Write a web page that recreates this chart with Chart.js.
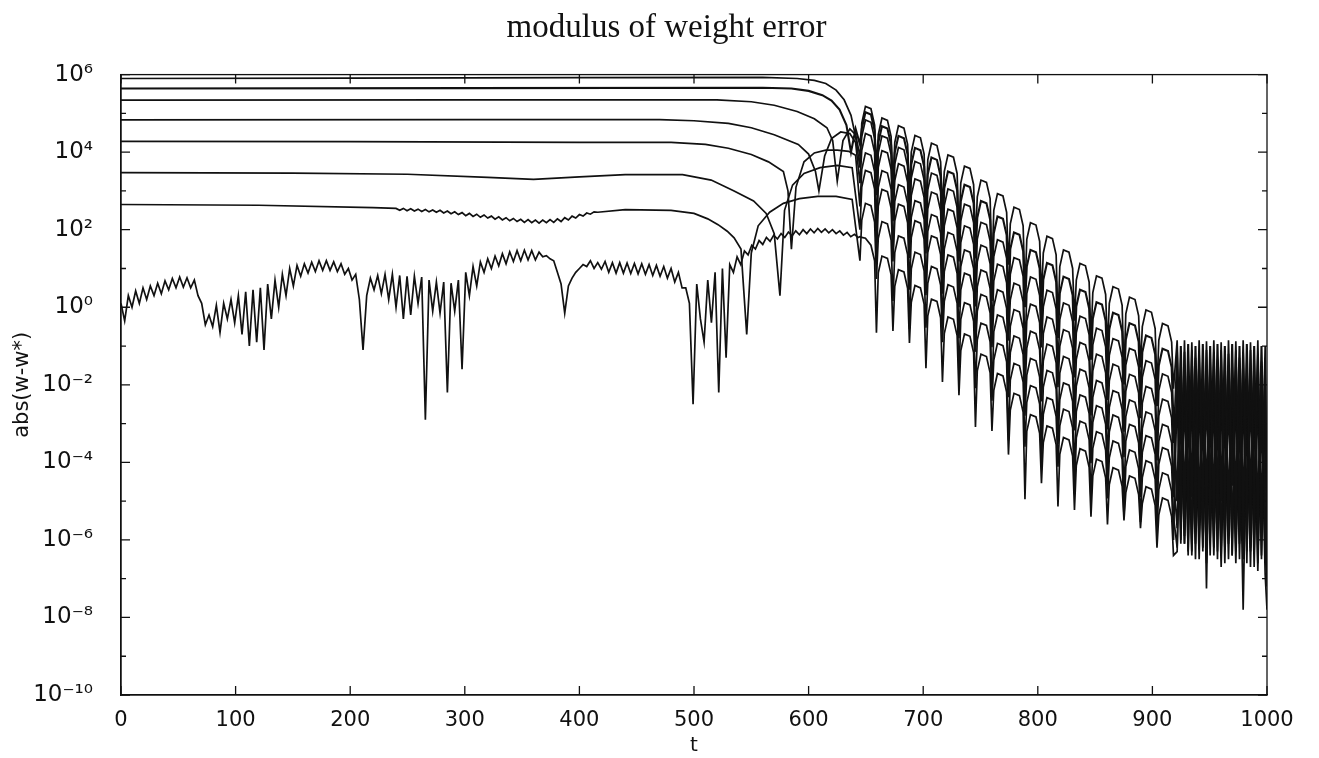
<!DOCTYPE html>
<html>
<head>
<meta charset="utf-8">
<script src="https://cdn.jsdelivr.net/npm/chart.js@4.4.1/dist/chart.umd.min.js"></script>
<style>
  html, body { margin: 0; padding: 0; background: #fff; }
  #wrap { width: 1319px; height: 758px; }
</style>
</head>
<body>
<div id="wrap"><canvas id="c" width="1319" height="758"></canvas></div>
<script>
// All values as log10 of abs(w - w*).

// Tick labels / tick positions
const xTickValues = [0, 100, 200, 300, 400, 500, 600, 700, 800, 900, 1000];
const yTickExponents = [-10, -9, -8, -7, -6, -5, -4, -3, -2, -1, 0, 1, 2, 3, 4, 5, 6];

// Early (pre-collapse) parts of the seven upper curves: [t, log10 value]
const s1Early = [[0,5.9],[200,5.91],[400,5.92],[560,5.93],[590,5.9],[605,5.85],[615,5.77],[624,5.6],[631,5.35],[637,4.95],[641,4.4]];
const s2Early = [[0,5.64],[300,5.65],[560,5.66],[585,5.64],[600,5.58],[612,5.47],[620,5.33],[627,5.1],[633,4.7],[637,4.0],[641,4.6]];
const s3Early = [[0,5.34],[300,5.35],[520,5.35],[550,5.3],[570,5.21],[590,5.05],[605,4.86],[616,4.63],[621,4.3],[625,3.25],[630,4.3],[636,4.6],[641,4.45]];
const s4Early = [[0,4.83],[300,4.84],[470,4.84],[500,4.81],[530,4.74],[550,4.63],[570,4.45],[591,4.2],[600,3.95],[606,3.5],[609,3.0],[614,3.9],[620,4.35],[628,4.52],[636,4.48],[641,4.25]];
const s5Early = [[0,4.28],[200,4.27],[400,4.25],[480,4.25],[510,4.2],[530,4.1],[550,3.94],[565,3.75],[578,3.5],[582,3.0],[585,1.5],[589,3.1],[596,3.75],[605,3.98],[615,4.05],[625,4.05],[635,4.02],[641,3.92]];
const s6Early = [[0,3.47],[150,3.46],[250,3.43],[320,3.35],[360,3.3],[400,3.36],[440,3.42],[490,3.42],[515,3.28],[535,3.0],[552,2.74],[563,2.42],[570,1.9],[575,0.3],[579,2.5],[586,3.15],[596,3.45],[610,3.6],[625,3.66],[638,3.6]];
const s7EarlyA = [[0,2.65],[120,2.63],[220,2.57]];
// wavy stretch of curve 7, every 3.2 time steps from t = 240 to t = 416
const s7WavyStart = 240, s7WavyStep = 3.2;
const s7Wavy = [
  2.55,2.5,2.55,2.49,2.54,2.48,2.53,2.47,2.52,2.46,
  2.51,2.45,2.5,2.43,2.48,2.41,2.46,2.39,2.44,2.36,
  2.42,2.34,2.4,2.32,2.38,2.3,2.35,2.27,2.33,2.25,
  2.31,2.23,2.29,2.21,2.27,2.19,2.26,2.18,2.25,2.17,
  2.25,2.18,2.26,2.19,2.28,2.21,2.31,2.25,2.35,2.3,
  2.39,2.35,2.43,2.4,2.46,2.45
];
const s7EarlyB = [[440,2.52],[480,2.5],[500,2.42],[512,2.28],[521,2.13],[529,1.96],[535,1.79],[541,1.5],[546,-0.7],[550,1.4],[556,2.1],[566,2.45],[578,2.68],[592,2.8],[608,2.86],[624,2.86],[638,2.78]];

// Lowest curve, sampled every 3.2 time steps from t = 0 to t = 643.2
const s8FineStep = 3.2;
const s8Early = [
  0.1,-0.35,0.3,0.0,0.42,0.1,0.5,0.2,0.55,0.3,
  0.62,0.35,0.68,0.45,0.74,0.5,0.78,0.52,0.76,0.5,
  0.7,0.3,0.1,-0.45,-0.2,-0.5,0.05,-0.65,0.1,-0.3,
  0.2,-0.4,0.3,-0.7,0.4,-1.0,0.45,-0.9,0.5,-1.1,
  0.6,-0.3,0.7,0.0,0.85,0.3,1.0,0.55,1.08,0.8,
  1.12,0.88,1.16,0.92,1.2,0.95,1.2,0.95,1.17,0.92,
  1.12,0.85,1.0,0.7,0.85,0.2,-1.1,0.3,0.75,0.45,
  0.82,0.35,0.85,0.2,0.85,0.0,0.82,-0.3,0.8,-0.2,
  0.8,0.1,0.78,-2.9,0.7,-0.1,0.65,-0.15,0.65,-2.2,
  0.62,-0.1,0.7,-1.6,0.9,0.3,1.05,0.55,1.17,0.9,
  1.25,1.0,1.32,1.07,1.38,1.12,1.43,1.18,1.46,1.2,
  1.47,1.22,1.46,1.22,1.42,1.3,1.33,1.25,1.2,0.9,
  0.6,-0.15,0.55,0.75,0.9,1.0,1.1,1.05,1.2,1.0,
  1.15,0.98,1.18,0.9,1.15,0.88,1.15,0.88,1.14,0.87,
  1.13,0.86,1.12,0.85,1.1,0.82,1.08,0.8,1.05,0.75,
  1.0,0.65,0.9,0.5,0.5,0.1,-2.5,0.6,-0.3,-0.9,
  0.7,-0.4,0.9,-2.2,1.0,-1.3,1.1,0.9,1.3,1.1,
  1.45,
  1.35,1.6,1.5,1.72,1.62,1.8,1.7,1.86,1.76,1.9,
  1.8,1.94,1.84,1.97,1.87,2.0,1.9,2.02,1.92,2.03,
  1.93,2.02,1.92,2.0,1.9,1.97,1.86,1.93,1.82,1.88,1.8
];

// Decaying oscillation: one cusp + arch every 14.4 time steps from t = 644.8;
// each period is read at offsets 0 (cusp), 1.6, 4.8, 9.6, 12.8; last value is the cusp at t = 918.4
const decayStart = 644.8, decayPeriod = 14.4;
const decayOffsets = [0, 1.6, 4.8, 9.6, 12.8];
const s1Decay = [
  3.6,4.75,5.18,5.12,4.7, 3.6,4.45,4.88,4.82,4.4, 3.1,4.25,4.68,4.62,4.2, 2.95,4.0,4.43,4.37,3.95,
  2.35,3.8,4.23,4.17,3.75, 2.55,3.5,3.93,3.87,3.45, 1.96,3.21,3.64,3.58,3.16, 1.7,2.85,3.28,3.22,2.8,
  0.95,2.5,2.93,2.87,2.45, 1.1,2.15,2.58,2.52,2.1, 0.4,1.75,2.18,2.12,1.7, 0.25,1.4,1.83,1.77,1.35,
  -0.4,1.05,1.48,1.42,1.0, -0.35,0.7,1.13,1.07,0.65, -0.87,0.38,0.81,0.75,0.33, -1.05,0.1,0.53,0.47,0.05,
  -1.72,-0.17,0.26,0.2,-0.22, -1.55,-0.5,-0.07,-0.13,-0.55, -2.1,-0.85,-0.42,-0.48,-0.9, -2.1];
const s2Decay = [
  4.2,4.6,5.03,4.97,4.55, 2.89,4.24,4.67,4.61,4.19, 3.04,3.99,4.42,4.36,3.94, 2.13,3.68,4.11,4.05,3.63,
  2.38,3.43,3.86,3.8,3.38, 1.82,3.07,3.5,3.44,3.02, 1.28,2.73,3.16,3.1,2.68, 1.26,2.31,2.74,2.68,2.26,
  0.76,1.91,2.34,2.28,1.86, -0.15,1.5,1.93,1.87,1.45, 0.0,1.05,1.48,1.42,1.0, -0.64,0.71,1.14,1.08,0.66,
  -0.79,0.36,0.79,0.73,0.31, -1.43,0.02,0.45,0.39,-0.03, -1.35,-0.3,0.13,0.07,-0.35, -1.82,-0.57,-0.14,-0.2,-0.62,
  -1.99,-0.84,-0.41,-0.47,-0.89, -2.51,-1.16,-0.73,-0.79,-1.21, -2.55,-1.5,-1.07,-1.13,-1.55, -2.95];
const s3Decay = [
  3.9,4.4,4.83,4.77,4.35, 2.94,3.99,4.42,4.36,3.94, 2.24,3.69,4.12,4.06,3.64, 2.38,3.33,3.76,3.7,3.28,
  1.78,3.03,3.46,3.4,2.98, 0.97,2.62,3.05,2.99,2.57, 1.18,2.23,2.66,2.6,2.18, 0.41,1.76,2.19,2.13,1.71,
  0.16,1.31,1.74,1.68,1.26, -0.4,0.85,1.28,1.22,0.8, -1.2,0.35,0.78,0.72,0.3, -1.04,0.01,0.44,0.38,-0.04,
  -1.57,-0.32,0.11,0.05,-0.37, -1.81,-0.66,-0.23,-0.29,-0.71, -2.52,-0.97,-0.54,-0.6,-1.02, -2.39,-1.24,-0.81,-0.87,-1.29,
  -2.84,-1.49,-1.06,-1.12,-1.54, -2.86,-1.81,-1.38,-1.44,-1.86, -3.6,-2.15,-1.72,-1.78,-2.2, -3.5];
const s4Decay = [
  3.2,4.05,4.48,4.42,4.0, 1.86,3.61,4.04,3.98,3.56, 2.22,3.27,3.7,3.64,3.22, 1.63,2.88,3.31,3.25,2.83,
  1.39,2.54,2.97,2.91,2.49, 1.05,2.1,2.53,2.47,2.05, 0.12,1.67,2.1,2.04,1.62, 0.02,1.17,1.6,1.54,1.12,
  -0.67,0.68,1.11,1.05,0.63, -0.86,0.19,0.62,0.56,0.14, -1.6,-0.35,0.08,0.02,-0.4, -2.33,-0.68,-0.25,-0.31,-0.73,
  -2.06,-1.01,-0.58,-0.64,-1.06, -2.69,-1.34,-0.91,-0.97,-1.39, -2.79,-1.64,-1.21,-1.27,-1.69, -3.15,-1.9,-1.47,-1.53,-1.95,
  -3.21,-2.16,-1.73,-1.79,-2.21, -4.02,-2.47,-2.04,-2.1,-2.52, -3.95,-2.8,-2.37,-2.43,-2.85, -4.35];
const s5Decay = [
  2.6,3.55,3.98,3.92,3.5, 1.94,3.09,3.52,3.46,3.04, 1.38,2.73,3.16,3.1,2.68, 1.27,2.32,2.75,2.69,2.27,
  0.31,1.96,2.39,2.33,1.91, 0.35,1.5,1.93,1.87,1.45, 0.0,1.05,1.48,1.42,1.0, -1.02,0.53,0.96,0.9,0.48,
  -1.03,0.02,0.45,0.39,-0.03, -1.94,-0.49,-0.06,-0.12,-0.54, -2.2,-1.05,-0.62,-0.68,-1.1, -2.43,-1.38,-0.95,-1.01,-1.43,
  -3.25,-1.7,-1.27,-1.33,-1.75, -3.18,-2.03,-1.6,-1.66,-2.08, -3.57,-2.32,-1.89,-1.95,-2.37, -4.03,-2.58,-2.15,-2.21,-2.63,
  -3.87,-2.82,-2.39,-2.45,-2.87, -4.38,-3.13,-2.7,-2.76,-3.18, -4.8,-3.45,-3.02,-3.08,-3.5, -4.9];
const s6Decay = [
  2.0,3.1,3.53,3.47,3.05, 1.16,2.61,3.04,2.98,2.56, 1.18,2.23,2.66,2.6,2.18, 0.45,1.8,2.23,2.17,1.75,
  0.36,1.41,1.84,1.78,1.36, -0.53,0.92,1.35,1.29,0.87, -0.8,0.45,0.88,0.82,0.4, -1.15,-0.1,0.33,0.27,-0.15,
  -2.28,-0.63,-0.2,-0.26,-0.68, -2.32,-1.17,-0.74,-0.8,-1.22, -2.8,-1.75,-1.32,-1.38,-1.8, -3.41,-2.06,-1.63,-1.69,-2.11,
  -3.53,-2.38,-1.95,-2.01,-2.43, -4.34,-2.69,-2.26,-2.32,-2.74, -4.02,-2.97,-2.54,-2.6,-3.02, -4.46,-3.21,-2.78,-2.84,-3.26,
  -4.8,-3.45,-3.02,-3.08,-3.5, -4.89,-3.74,-3.31,-3.37,-3.79, -5.3,-4.05,-3.62,-3.68,-4.1, -5.4];
const s7Decay = [
  1.2,2.25,2.68,2.62,2.2, 0.73,1.78,2.21,2.15,1.73, 0.16,1.41,1.84,1.78,1.36, -0.56,0.99,1.42,1.36,0.94,
  -0.53,0.62,1.05,0.99,0.57, -0.9,0.15,0.58,0.52,0.1, -1.76,-0.31,0.12,0.06,-0.36, -2.09,-0.84,-0.41,-0.47,-0.89,
  -2.41,-1.36,-0.93,-0.99,-1.41, -3.43,-1.88,-1.45,-1.51,-1.93, -3.6,-2.45,-2.02,-2.08,-2.5, -4.01,-2.76,-2.33,-2.39,-2.81,
  -4.11,-3.06,-2.63,-2.69,-3.11, -4.82,-3.37,-2.94,-3.0,-3.42, -4.99,-3.64,-3.21,-3.27,-3.69, -4.93,-3.88,-3.45,-3.51,-3.93,
  -5.4,-4.11,-3.68,-3.74,-4.16, -5.54,-4.39,-3.96,-4.02,-4.44, -5.75,-4.7,-4.27,-4.33,-4.75, -6.0];
const s8Decay = [
  1.82,1.8,1.78,1.6,1.2, -0.66,0.89,1.32,1.26,0.84, -0.61,0.54,0.97,0.91,0.49, -0.92,0.13,0.56,0.5,0.08,
  -1.57,-0.22,0.21,0.15,-0.27, -1.93,-0.68,-0.25,-0.31,-0.73, -2.27,-1.12,-0.69,-0.75,-1.17, -3.09,-1.64,-1.21,-1.27,-1.69,
  -3.19,-2.14,-1.71,-1.77,-2.19, -3.8,-2.65,-2.22,-2.28,-2.7, -4.95,-3.2,-2.77,-2.83,-3.25, -4.54,-3.49,-3.06,-3.12,-3.54,
  -5.14,-3.79,-3.36,-3.42,-3.84, -5.23,-4.08,-3.65,-3.71,-4.13, -5.4,-4.35,-3.92,-3.98,-4.4, -5.6,-4.57,-4.14,-4.2,-4.62,
  -5.5,-4.78,-4.35,-4.41,-4.83, -5.7,-5.06,-4.63,-4.69,-5.11, -6.2,-5.35,-4.92,-4.98,-5.4, -6.4];

// Dense band near the end, sampled every 3.2 time steps from t = 921.6 to t = 998.4
const denseStart = 921.6, denseStep = 3.2;
const s1Dense = [-0.85,-4.6,-0.85,-4.9,-0.9,-4.5,-0.85,-5.0,-0.88,-4.7,-0.85,-4.8,-0.9,-5.1,-0.85,-4.6,-0.88,-4.9,-0.85,-5.2,-0.9,-4.8,-0.85,-5.3,-1.0];
const s2Dense = [-5.0,-1.0,-5.2,-0.95,-4.9,-1.0,-5.4,-0.95,-5.1,-1.0,-5.3,-0.95,-5.0,-1.0,-5.5,-0.95,-5.2,-1.0,-5.4,-0.95,-5.1,-1.0,-5.6,-1.0,-5.5];
const s3Dense = [-1.1,-5.4,-1.15,-5.6,-1.1,-5.3,-1.2,-5.8,-1.1,-5.5,-1.15,-5.7,-1.1,-5.4,-1.2,-5.9,-1.1,-5.6,-1.15,-5.8,-1.1,-5.5,-1.2,-6.0,-1.3];
const s4Dense = [-5.7,-1.3,-5.9,-1.35,-6.1,-1.3,-5.8,-1.4,-6.0,-1.3,-5.9,-1.35,-6.2,-1.3,-5.9,-1.4,-6.1,-1.3,-6.0,-1.35,-6.3,-1.3,-6.0,-1.4,-6.2];
const s5Dense = [-1.6,-6.0,-1.5,-6.4,-1.6,-6.1,-1.5,-6.3,-1.6,-6.0,-1.5,-6.5,-1.6,-6.2,-1.5,-6.4,-1.6,-6.1,-1.5,-6.6,-1.6,-6.3,-1.5,-6.5,-1.7];
const s6Dense = [-6.2,-1.9,-6.1,-1.8,-6.3,-1.9,-6.0,-1.85,-7.25,-1.9,-6.2,-1.8,-6.4,-1.9,-6.1,-1.85,-6.3,-1.9,-6.5,-1.8,-6.2,-1.9,-6.6,-1.85,-6.4];
const s7Dense = [-2.2,-6.1,-2.3,-6.3,-2.2,-6.5,-2.3,-6.2,-2.2,-6.4,-2.3,-6.3,-2.2,-6.6,-2.3,-6.4,-2.2,-6.5,-2.3,-6.3,-2.2,-6.7,-2.3,-6.4,-2.4];
const s8Dense = [-6.3,-2.7,-6.1,-2.8,-6.4,-2.7,-6.5,-2.8,-6.6,-2.7,-6.4,-2.8,-6.7,-2.7,-6.5,-2.8,-6.6,-2.7,-7.8,-2.8,-6.7,-2.7,-6.8,-2.8,-6.9];

// Final values at t = 1000 (one per curve, top to bottom)
const endT = 1000;
const endLevels = [-6.0, -6.3, -6.5, -6.7, -6.9, -7.0, -7.2, -7.8];

function decayT(k) {
  const n = decayOffsets.length;
  return +(decayStart + decayPeriod * Math.floor(k / n) + decayOffsets[k % n]).toFixed(2);
}

function buildSeries(early, decay, dense, endV) {
  const pts = early.map(([t, v]) => ({ x: t, y: Math.pow(10, v) }));
  decay.forEach((v, k) => pts.push({ x: decayT(k), y: Math.pow(10, v) }));
  dense.forEach((v, j) => pts.push({ x: +(denseStart + denseStep * j).toFixed(2), y: Math.pow(10, v) }));
  pts.push({ x: endT, y: Math.pow(10, endV) });
  return pts;
}

const s8EarlyPairs = s8Early.map((v, j) => [+(j * s8FineStep).toFixed(2), v]);
const s7EarlyPairs = s7EarlyA
  .concat(s7Wavy.map((v, j) => [+(s7WavyStart + j * s7WavyStep).toFixed(2), v]))
  .concat(s7EarlyB);

const curves = [
  [s1Early, s1Decay, s1Dense],
  [s2Early, s2Decay, s2Dense],
  [s3Early, s3Decay, s3Dense],
  [s4Early, s4Decay, s4Dense],
  [s5Early, s5Decay, s5Dense],
  [s6Early, s6Decay, s6Dense],
  [s7EarlyPairs, s7Decay, s7Dense],
  [s8EarlyPairs, s8Decay, s8Dense]
];

const datasets = curves.map((c, i) => ({
  label: 'curve ' + (i + 1),
  data: buildSeries(c[0], c[1], c[2], endLevels[i]),
  borderColor: '#111111',
  borderWidth: i === 1 ? 2.1 : 1.7,
  pointRadius: 0,
  tension: 0,
  fill: false
}));

const supMap = { '-': '\u207B', '0': '\u2070', '1': '\u00B9', '2': '\u00B2', '3': '\u00B3', '4': '\u2074', '5': '\u2075', '6': '\u2076', '7': '\u2077', '8': '\u2078', '9': '\u2079' };
function sup(n) { return String(n).split('').map(ch => supMap[ch]).join(''); }

const framePlugin = {
  id: 'frameTicks',
  afterDraw(chart) {
    const { ctx, chartArea: a, scales } = chart;
    ctx.save();
    ctx.strokeStyle = '#111';
    ctx.lineWidth = 1.3;
    ctx.strokeRect(a.left, a.top, a.right - a.left, a.bottom - a.top);
    ctx.beginPath();
    yTickExponents.forEach(e => {
      const y = scales.y.getPixelForValue(Math.pow(10, e));
      const len = (e % 2 === 0) ? 9 : 5;
      ctx.moveTo(a.left, y); ctx.lineTo(a.left + len, y);
      ctx.moveTo(a.right, y); ctx.lineTo(a.right - len, y);
    });
    xTickValues.forEach(v => {
      const x = scales.x.getPixelForValue(v);
      ctx.moveTo(x, a.bottom); ctx.lineTo(x, a.bottom - 9);
      ctx.moveTo(x, a.top); ctx.lineTo(x, a.top + 9);
    });
    ctx.stroke();
    ctx.restore();
  }
};

new Chart(document.getElementById('c'), {
  type: 'line',
  data: { datasets },
  plugins: [framePlugin],
  options: {
    responsive: false,
    animation: false,
    events: [],
    layout: { padding: { left: 0, right: 52, top: 0, bottom: 0 } },
    plugins: {
      legend: { display: false },
      tooltip: { enabled: false },
      title: {
        display: true,
        text: '        modulus of weight error',
        color: '#111',
        font: { family: 'Liberation Serif', size: 33, weight: 'normal' },
        padding: { top: 9, bottom: 26 }
      }
    },
    scales: {
      x: {
        type: 'linear',
        min: 0,
        max: 1000,
        grid: { display: false },
        border: { display: true, color: '#111', width: 1.3 },
        afterBuildTicks(scale) { scale.ticks = xTickValues.map(v => ({ value: v })); },
        afterFit(scale) { scale.height = 63; },
        ticks: {
          color: '#111',
          font: { family: 'DejaVu Sans', size: 21 },
          padding: 5,
          maxRotation: 0,
          autoSkip: false,
          callback: v => String(v)
        },
        title: {
          display: true,
          text: 't',
          color: '#111',
          font: { family: 'DejaVu Sans', size: 20 },
          padding: { top: 0, bottom: 0 }
        }
      },
      y: {
        type: 'logarithmic',
        min: 1e-10,
        max: 1e6,
        grid: { display: false },
        border: { display: true, color: '#111', width: 1.3 },
        afterBuildTicks(scale) { scale.ticks = yTickExponents.map(e => ({ value: Math.pow(10, e) })); },
        afterFit(scale) { scale.width = 121; },
        ticks: {
          color: '#111',
          font: { family: 'DejaVu Sans', size: 23 },
          padding: 20,
          autoSkip: false,
          callback: v => {
            const e = Math.round(Math.log10(v));
            return (e % 2 === 0) ? '10' + sup(e) : '';
          }
        },
        title: {
          display: true,
          text: 'abs(w-w*)',
          color: '#111',
          font: { family: 'DejaVu Sans', size: 21 },
          padding: { top: 10, bottom: 0 }
        }
      }
    }
  }
});
</script>
</body>
</html>
